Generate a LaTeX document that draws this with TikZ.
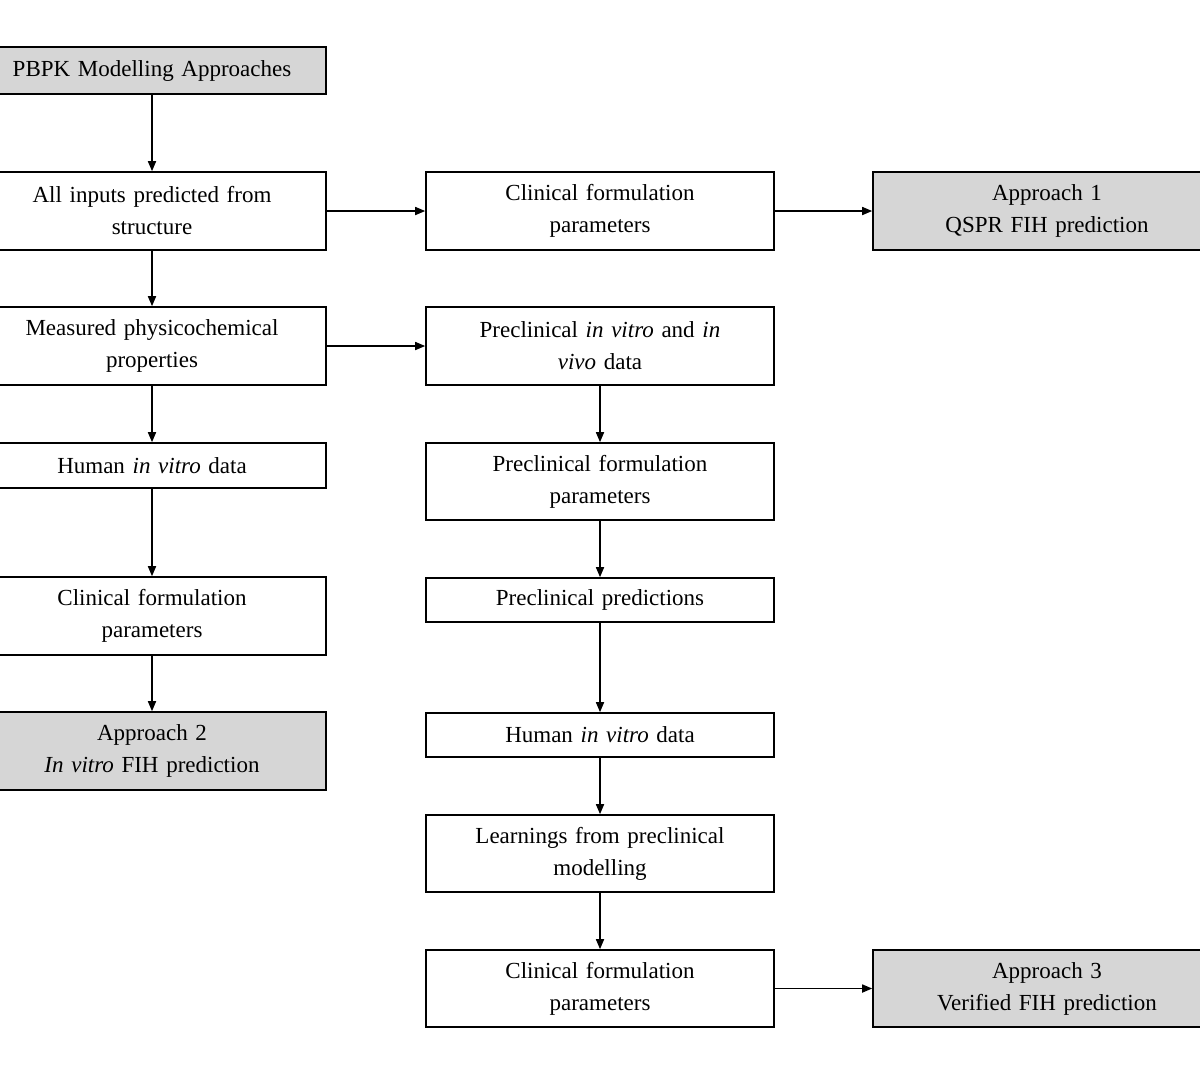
\documentclass[tikz,border=0pt]{standalone}
\usepackage{fontspec}
\setmainfont{Liberation Serif}
\usetikzlibrary{arrows.meta}
\begin{document}
\begin{tikzpicture}[x=1pt,y=-1pt,
  box/.style={draw=black,line width=1.6pt,fill=white,align=center,text width=330pt,inner sep=0pt,font=\fontsize{23}{32}\selectfont},
  gbox/.style={box,fill=black!16},
  lw/.style={minimum width=348pt},
  arr/.style={-{Triangle[length=10pt,width=8pt]},line width=1.6pt}]
\useasboundingbox (0,0) rectangle (1200,1080);
\clip (0,0) rectangle (1200,1080);
\fill[white] (0,0) rectangle (1200,1080);
% left column (center x=152)
\node[gbox,lw,minimum height=47pt] (l1) at (152,70.5) {PBPK Modelling Approaches};
\node[box,lw,minimum height=78pt] (l2) at (152,211) {All inputs predicted from\\structure};
\node[box,lw,minimum height=78pt] (l3) at (152,346) {Measured physicochemical\\properties};
\node[box,lw,minimum height=45pt] (l4) at (152,465.5) {Human \textit{in vitro} data};
\node[box,lw,minimum height=78pt] (l5) at (152,616) {Clinical formulation\\parameters};
\node[gbox,lw,minimum height=78pt] (l6) at (152,751) {Approach 2\\\textit{In vitro} FIH prediction};
% middle column (center x=600)
\node[box,lw,minimum height=78pt] (m1) at (600,211) {Clinical formulation\\parameters};
\node[box,lw,minimum height=78pt] (m2) at (600,346) {Preclinical \textit{in vitro} and \textit{in}\\\textit{vivo} data};
\node[box,lw,minimum height=77pt] (m3) at (600,481.5) {Preclinical formulation\\parameters};
\node[box,lw,minimum height=44pt] (m4) at (600,600) {Preclinical predictions};
\node[box,lw,minimum height=44pt] (m5) at (600,735) {Human \textit{in vitro} data};
\node[box,lw,minimum height=77pt] (m6) at (600,853.5) {Learnings from preclinical\\modelling};
\node[box,lw,minimum height=77pt] (m7) at (600,988.5) {Clinical formulation\\parameters};
% right column
\node[gbox,minimum width=348pt,minimum height=78pt] (r1) at (1047,211) {Approach 1\\QSPR FIH prediction};
\node[gbox,minimum width=348pt,minimum height=77pt] (r2) at (1047,988.5) {Approach 3\\Verified FIH prediction};
% arrows
\draw[arr] (l1.south) -- (l2.north);
\draw[arr] (l2.south) -- (l3.north);
\draw[arr] (l3.south) -- (l4.north);
\draw[arr] (l4.south) -- (l5.north);
\draw[arr] (l5.south) -- (l6.north);
\draw[arr] (l2.east) -- (m1.west);
\draw[arr] (l3.east) -- (m2.west);
\draw[arr] (m1.east) -- (r1.west);
\draw[arr] (m2.south) -- (m3.north);
\draw[arr] (m3.south) -- (m4.north);
\draw[arr] (m4.south) -- (m5.north);
\draw[arr] (m5.south) -- (m6.north);
\draw[arr] (m6.south) -- (m7.north);
\draw[arr] (m7.east) -- (r2.west);
\end{tikzpicture}
\end{document}
